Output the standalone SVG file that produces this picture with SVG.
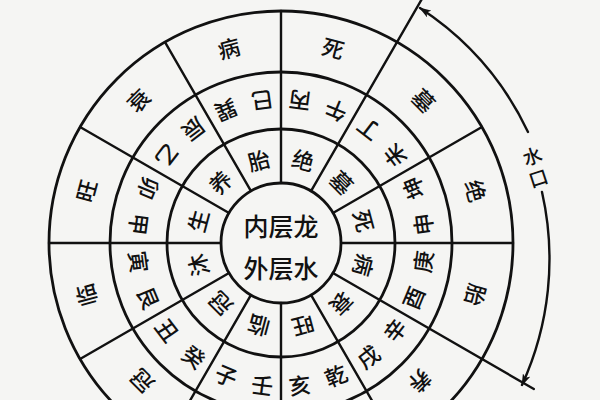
<svg xmlns="http://www.w3.org/2000/svg" width="600" height="400" viewBox="0 0 600 400">
<defs>
<style>
.ln{fill:none;stroke:#111;stroke-width:2.4;stroke-linecap:round}
.ci{fill:none;stroke:#111;stroke-width:2.8}
.t{font-family:"Noto Sans CJK SC","Noto Sans CJK TC",sans-serif;font-size:22px;font-weight:500;fill:#111;text-anchor:middle;dominant-baseline:central}
.c{font-size:25px}
.m{font-size:19px}
</style>
<marker id="ah" viewBox="0 0 12 8" refX="11" refY="4" markerWidth="12" markerHeight="8" markerUnits="userSpaceOnUse" orient="auto">
<path d="M0,0 L12,4 L0,8 L3,4 z" fill="#111"/>
</marker>
</defs>
<rect width="600" height="400" fill="#f5f5f3"/>
<g id="rings">
<circle class="ci" cx="281" cy="243" r="232"/>
<circle class="ci" cx="281" cy="243" r="171"/>
<circle class="ci" cx="281" cy="243" r="114"/>
<circle class="ci" cx="281" cy="243" r="60"/>
</g>
<g id="dividers" transform="translate(281 243)">
<line class="ln" x1="60" y1="0" x2="232" y2="0"/>
<line class="ln" x1="60" y1="0" x2="292" y2="0" transform="rotate(30)"/>
<line class="ln" x1="60" y1="0" x2="232" y2="0" transform="rotate(60)"/>
<line class="ln" x1="60" y1="0" x2="232" y2="0" transform="rotate(90)"/>
<line class="ln" x1="60" y1="0" x2="232" y2="0" transform="rotate(120)"/>
<line class="ln" x1="60" y1="0" x2="232" y2="0" transform="rotate(150)"/>
<line class="ln" x1="60" y1="0" x2="232" y2="0" transform="rotate(180)"/>
<line class="ln" x1="60" y1="0" x2="232" y2="0" transform="rotate(210)"/>
<line class="ln" x1="60" y1="0" x2="232" y2="0" transform="rotate(240)"/>
<line class="ln" x1="60" y1="0" x2="232" y2="0" transform="rotate(270)"/>
<line class="ln" x1="60" y1="0" x2="292" y2="0" transform="rotate(300)"/>
<line class="ln" x1="60" y1="0" x2="232" y2="0" transform="rotate(330)"/>
</g>
<g id="center">
<text class="t c" x="281" y="225">内层龙</text>
<text class="t c" x="281" y="267">外层水</text>
</g>
<g id="ring-inner">
<text class="t" transform="translate(197 220.5) rotate(-75)">生</text>
<text class="t" transform="translate(219.5 181.5) rotate(-45)">养</text>
<text class="t" transform="translate(258.5 159) rotate(-15)">胎</text>
<text class="t" transform="translate(303.5 159) rotate(15)">绝</text>
<text class="t" transform="translate(342.5 181.5) rotate(45)">墓</text>
<text class="t" transform="translate(365 220.5) rotate(75)">死</text>
<text class="t" transform="translate(365 265.5) rotate(105)">病</text>
<text class="t" transform="translate(342.5 304.5) rotate(135)">衰</text>
<text class="t" transform="translate(303.5 327) rotate(165)">旺</text>
<text class="t" transform="translate(258.5 327) rotate(195)">临</text>
<text class="t" transform="translate(219.5 304.5) rotate(225)">冠</text>
<text class="t" transform="translate(197 265.5) rotate(255)">沐</text>
</g>
<g id="ring-middle">
<text class="t" transform="translate(299.5 102.2) rotate(-172.5)">丙</text>
<text class="t" transform="translate(335.3 111.8) rotate(-157.5)">午</text>
<text class="t" transform="translate(367.4 130.3) rotate(-142.5)">丁</text>
<text class="t" transform="translate(393.7 156.6) rotate(-127.5)">未</text>
<text class="t" transform="translate(412.2 188.7) rotate(-112.5)">坤</text>
<text class="t" transform="translate(421.8 224.5) rotate(-97.5)">申</text>
<text class="t" transform="translate(421.8 261.5) rotate(-82.5)">庚</text>
<text class="t" transform="translate(412.2 297.3) rotate(-67.5)">酉</text>
<text class="t" transform="translate(393.7 329.4) rotate(-52.5)">辛</text>
<text class="t" transform="translate(367.4 355.7) rotate(-37.5)">戌</text>
<text class="t" transform="translate(335.3 374.2) rotate(-22.5)">乾</text>
<text class="t" transform="translate(299.5 383.8) rotate(-7.5)">亥</text>
<text class="t" transform="translate(262.5 383.8) rotate(7.5)">壬</text>
<text class="t" transform="translate(226.7 374.2) rotate(22.5)">子</text>
<text class="t" transform="translate(194.6 355.7) rotate(37.5)">癸</text>
<text class="t" transform="translate(168.3 329.4) rotate(52.5)">丑</text>
<text class="t" transform="translate(149.8 297.3) rotate(67.5)">艮</text>
<text class="t" transform="translate(140.2 261.5) rotate(82.5)">寅</text>
<text class="t" transform="translate(140.2 224.5) rotate(97.5)">甲</text>
<text class="t" transform="translate(149.8 188.7) rotate(112.5)">卯</text>
<text class="t" transform="translate(168.3 156.6) rotate(127.5)">乙</text>
<text class="t" transform="translate(194.6 130.3) rotate(142.5)">辰</text>
<text class="t" transform="translate(226.7 111.8) rotate(157.5)">巽</text>
<text class="t" transform="translate(262.5 102.2) rotate(172.5)">巳</text>
</g>
<g id="ring-outer">
<text class="t" transform="translate(228.5 46.9) rotate(-15)">病</text>
<text class="t" transform="translate(333.5 46.9) rotate(15)">死</text>
<text class="t" transform="translate(424.5 99.5) rotate(45)">墓</text>
<text class="t" transform="translate(477.1 190.5) rotate(75)">绝</text>
<text class="t" transform="translate(477.1 295.5) rotate(105)">胎</text>
<text class="t" transform="translate(421 382) rotate(135)">养</text>
<text class="t" transform="translate(141 382) rotate(-135)">冠</text>
<text class="t" transform="translate(84.9 295.5) rotate(-105)">临</text>
<text class="t" transform="translate(84.9 190.5) rotate(-75)">旺</text>
<text class="t" transform="translate(137.5 99.5) rotate(-45)">衰</text>
</g>
<g id="connectors">
<path class="ln" d="M528 132 A303 303 0 0 0 420 8" marker-end="url(#ah)"/>
<path class="ln" d="M542 192 A303 303 0 0 1 522 385" marker-end="url(#ah)"/>
</g>
<g id="label-water-mouth">
<text class="t m" transform="translate(532 155) rotate(-18)">水</text>
<text class="t m" transform="translate(538 177) rotate(-18)">口</text>
</g>
</svg>
